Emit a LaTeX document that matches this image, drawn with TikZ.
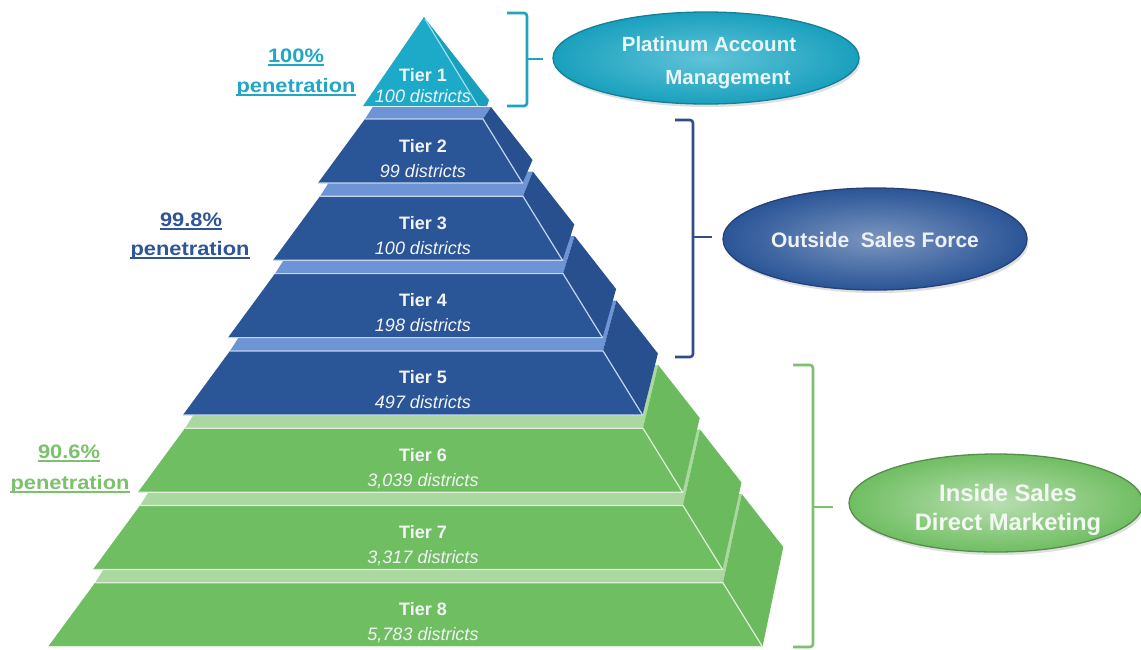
\documentclass[tikz,border=0pt]{standalone}
\usepackage{fontspec}
\setmainfont{Liberation Sans}
\usetikzlibrary{shapes.geometric,shadows}

% pyramid colours
\definecolor{cyanT}{HTML}{1CAAC8}
\definecolor{cyanS}{HTML}{19A0BD}
\definecolor{cyanEdge}{HTML}{9EDDEB}
\definecolor{blueF}{HTML}{2A5597}
\definecolor{blueS}{HTML}{28508F}
\definecolor{blueTop}{HTML}{6D94D4}
\definecolor{blueEdge}{HTML}{C3D6F0}
\definecolor{greenF}{HTML}{70BE62}
\definecolor{greenS}{HTML}{6CBA5E}
\definecolor{greenTop}{HTML}{AAD8A0}
\definecolor{greenEdge}{HTML}{DDF0D7}
\definecolor{tiertext}{HTML}{F3F4F6}
% labels, brackets and ovals
\definecolor{pcyan}{HTML}{22A6C6}
\definecolor{pblue}{HTML}{2F5597}
\definecolor{pgreen}{HTML}{7CC16C}
\definecolor{brCyan}{HTML}{1FA3C0}
\definecolor{brBlue}{HTML}{2E4D8A}
\definecolor{brGreen}{HTML}{7CC26E}

\begin{document}
\begin{tikzpicture}[x=1pt,y=-1pt,
  tiertxt/.style={text=tiertext, font=\fontsize{18}{20}\selectfont\bfseries, inner sep=0pt, anchor=base},
  disttxt/.style={text=tiertext, font=\fontsize{18}{20}\selectfont\itshape, inner sep=0pt, anchor=base},
  pentxt/.style={font=\fontsize{19.5}{22}\selectfont\bfseries, inner sep=0pt, anchor=base},
  uline/.style={line width=1.4pt},
  brace/.style={line width=2.6pt, rounded corners=3pt},
  oval/.style={ellipse, inner sep=0pt, line width=1.3pt,
    drop shadow={shadow xshift=1.5pt, shadow yshift=-3pt, opacity=0.25}},
  ovaltxt/.style={font=\fontsize{21}{33}\selectfont\bfseries, align=center, inner sep=0pt}
]
\useasboundingbox (0,0) rectangle (1141,649);
\fill[white] (0,0) rectangle (1141,649);

% ---- tiers 2..8, drawn from the bottom up so upper tiers cover the top faces below
\foreach \i in {6,5,4,3,2,1,0} {
  \pgfmathsetmacro\yT{119+77.3*\i}
  \pgfmathsetmacro\yB{\yT+64}
  \pgfmathsetmacro\xBL{318-45*\i}
  \pgfmathsetmacro\xTL{\xBL+47}
  \pgfmathsetmacro\xTR{483+40*\i}
  \pgfmathsetmacro\xBR{\xTR+39.5}
  \pgfmathsetmacro\dta{12+12.8*\i}
  \pgfmathsetmacro\dtx{8+1.8*\i}
  \pgfmathsetmacro\dba{23+12.8*\i}
  \pgfmathsetmacro\dbx{10+1.8*\i}
  \pgfmathsetmacro\dtl{0.64*\dta}
  \ifnum\i<4
    \colorlet{tf}{blueF}\colorlet{ts}{blueS}\colorlet{tt}{blueTop}\colorlet{te}{blueEdge}
  \else
    \colorlet{tf}{greenF}\colorlet{ts}{greenS}\colorlet{tt}{greenTop}\colorlet{te}{greenEdge}
  \fi
  % top face
  \fill[tt] (\xTL,\yT) -- (\xTR,\yT) -- (\xTR+\dtx,\yT-\dta) -- (\xTL+\dtl,\yT-\dta) -- cycle;
  % front face
  \fill[tf] (\xTL,\yT) -- (\xTR,\yT) -- (\xBR,\yB) -- (\xBL,\yB) -- cycle;
  % right side face
  \fill[ts] (\xTR,\yT) -- (\xTR+\dtx,\yT-\dta) -- (\xBR+\dbx,\yB-\dba) -- (\xBR,\yB) -- cycle;
  % light edges of the front face
  \draw[te, line width=1.2pt] (\xTL,\yT) -- (\xTR,\yT) -- (\xBR,\yB) -- (\xBL,\yB);
}

% ---- tier 1 (apex)
\fill[cyanT] (424,17) -- (478,106) -- (363,106) -- cycle;
\fill[cyanS] (424,17) -- (489,100) -- (487,106) -- (478,106) -- cycle;
\draw[cyanEdge, line width=1.2pt] (425,19) -- (478,106);

% ---- tier captions
\node[tiertxt] (tier1) at (423,81) {Tier 1};
\node[disttxt] (dist1) at (423,102) {100 districts};
\foreach \i/\cnt in {0/99,1/100,2/198,3/497,4/{3,039},5/{3,317},6/{5,783}} {
  \pgfmathsetmacro\yT{119+77.3*\i}
  \pgfmathtruncatemacro\k{\i+2}
  \node[tiertxt] (tier\k) at (423,\yT+33) {Tier \k};
  \node[disttxt] (dist\k) at (423,\yT+58) {\cnt\ districts};
}

% ---- penetration labels
\node[pentxt, text=pcyan] (p1a) at (296,62) {\scalebox{1.12}[1]{100\%}};
\node[pentxt, text=pcyan] (p1b) at (296,92) {\scalebox{1.12}[1]{penetration}};
\node[pentxt, text=pblue] (p2a) at (191,226) {\scalebox{1.12}[1]{99.8\%}};
\node[pentxt, text=pblue] (p2b) at (190,255) {\scalebox{1.12}[1]{penetration}};
\node[pentxt, text=pgreen] (p3a) at (69,458) {\scalebox{1.12}[1]{90.6\%}};
\node[pentxt, text=pgreen] (p3b) at (70,489) {\scalebox{1.12}[1]{penetration}};
\foreach \p/\c in {p1a/pcyan,p1b/pcyan,p2a/pblue,p2b/pblue,p3a/pgreen,p3b/pgreen}
  \draw[uline, \c] ([yshift=-3pt]\p.base west) -- ([yshift=-3pt]\p.base east);

% ---- brackets
\draw[brace, brCyan] (507,13) -- (527,13) -- (527,106) -- (507,106);
\coordinate (b1) at (527,59);
\draw[brace, brCyan] (b1) -- ++(16,0);
\draw[brace, brBlue] (675,120) -- (693,120) -- (693,357) -- (675,357);
\coordinate (b2) at (693,237);
\draw[brace, brBlue] (b2) -- ++(19,0);
\draw[brace, brGreen] (793,365) -- (813,365) -- (813,647) -- (793,647);
\coordinate (b3) at (813,507);
\draw[brace, brGreen] (b3) -- ++(20,0);

% ---- channel ovals
\node[oval, minimum width=306pt, minimum height=92pt, draw=cyanS!80!black,
      inner color=cyanT!70!white, outer color=cyanS] (pam) at (706,58) {};
\node[ovaltxt, text=white!90!cyanT, font=\fontsize{20.5}{33}\selectfont\bfseries] (pamt) at (709,63)
  {Platinum Account\\\hspace*{38pt}Management};

\node[oval, minimum width=304pt, minimum height=102pt, draw=brBlue!85!black,
      inner color=blueF!62!white, outer color=blueF] (osf) at (875,239) {};
\node[ovaltxt, text=white!92!blueF] (osft) at (875,240) {Outside\ \ Sales Force};

\node[oval, minimum width=294pt, minimum height=98pt, draw=greenF!75!black,
      inner color=greenF!50!white, outer color=greenF] (isd) at (996,503) {};
\node[ovaltxt, text=white!92!greenF, font=\fontsize{23.8}{29}\selectfont\bfseries] (isdt) at (1008,510)
  {Inside Sales\\Direct Marketing};
\end{tikzpicture}
\end{document}
